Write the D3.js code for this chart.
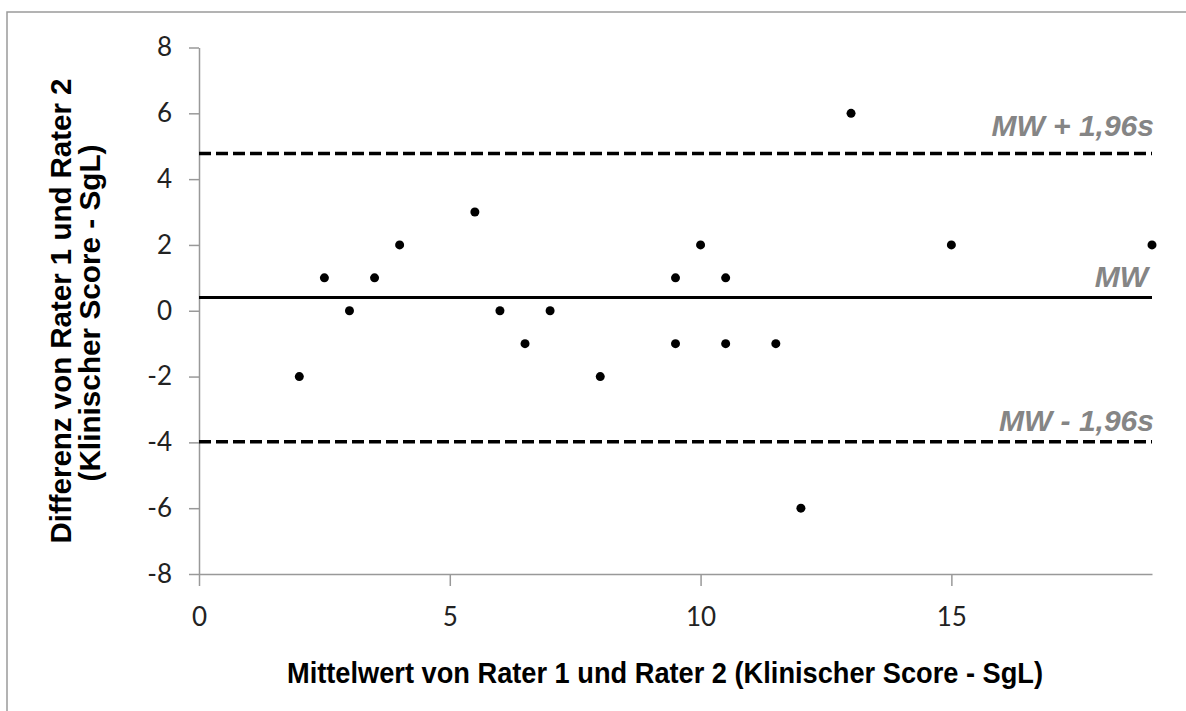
<!DOCTYPE html>
<html>
<head>
    <meta charset="utf-8">
    <title>Bland-Altman</title>
    <script src="https://d3js.org/d3.v7.min.js"></script>
    <style>
        body { margin: 0; background: #fff; }
        .tick text { font-family: Lato, "Open Sans", sans-serif; font-size: 26px; fill: #222; }
        .title { font-family: "Liberation Sans", Arial, sans-serif; font-weight: bold; font-size: 29px; fill: #000; }
        .lbl { font-family: "Liberation Sans", Arial, sans-serif; font-weight: bold; font-style: italic; font-size: 30px; fill: #858585; }
    </style>
</head>
<body>
<div id="chart"></div>
<script>
    // Mittelwert (x) und Differenz (y) je Fall
    let meanValues = [2, 2.5, 3, 3.5, 4, 5.5, 6, 6.5, 7, 8, 9.5, 9.5, 10, 10.5, 10.5, 11.5, 12, 13, 15, 19];
    let diffValues = [-2, 1, 0, 1, 2, 3, 0, -1, 0, -2, 1, -1, 2, 1, -1, -1, -6, 6, 2, 2];

    // Mittelwert und Grenzen (MW +/- 1,96s)
    let refValues = [4.78, 0.40, -3.98];
    let refLabels = ["MW + 1,96s", "MW", "MW - 1,96s"];
    let refDashed = [true, false, true];

    let xTicks = [0, 5, 10, 15];
    let yTicks = [-8, -6, -4, -2, 0, 2, 4, 6, 8];

    let W = 1186, H = 711;

    let svg = d3.select("#chart")
        .append("svg")
        .attr("width", W)
        .attr("height", H);

    // Rahmen (nur oben und links sichtbar)
    svg.append("rect")
        .attr("x", 7).attr("y", 12)
        .attr("width", W + 20).attr("height", H + 20)
        .attr("fill", "none")
        .attr("stroke", "#9a9a9a")
        .attr("stroke-width", 1.5);

    let xScale = d3.scaleLinear().domain([0, 19]).range([199, 1152]);
    let yScale = d3.scaleLinear().domain([-8, 8]).range([574, 47.5]);

    // y-Achse
    let yAxis = svg.append("g")
        .attr("transform", "translate(199,0)")
        .call(d3.axisLeft(yScale).tickValues(yTicks).tickSize(10).tickSizeOuter(0).tickPadding(17)
              .tickFormat(d => d < 0 ? "-" + Math.abs(d) : d));
    yAxis.selectAll("line, path").attr("stroke", "#999").attr("stroke-width", 1.5);

    // x-Achse
    let xAxis = svg.append("g")
        .attr("transform", "translate(0,574)")
        .call(d3.axisBottom(xScale).tickValues(xTicks).tickSize(12).tickSizeOuter(0).tickPadding(22));
    xAxis.selectAll("line, path").attr("stroke", "#999").attr("stroke-width", 1.5);

    // Referenzlinien
    svg.selectAll(".ref")
        .data(refValues)
        .enter()
        .append("line")
        .attr("class", "ref")
        .attr("x1", xScale(0))
        .attr("x2", xScale(19))
        .attr("y1", d => yScale(d))
        .attr("y2", d => yScale(d))
        .attr("stroke", "#000")
        .attr("stroke-width", (d, i) => refDashed[i] ? 3.5 : 3)
        .attr("stroke-dasharray", (d, i) => refDashed[i] ? "12,5" : null);

    let lblOffset = [17, 11, 11];
    svg.selectAll(".lbl")
        .data(refValues)
        .enter()
        .append("text")
        .attr("class", "lbl")
        .attr("x", (d, i) => i === 1 ? 1148 : 1154)
        .attr("y", (d, i) => yScale(d) - lblOffset[i])
        .attr("text-anchor", "end")
        .text((d, i) => refLabels[i]);

    // Punkte
    svg.selectAll("circle")
        .data(meanValues)
        .enter()
        .append("circle")
        .attr("cx", d => xScale(d))
        .attr("cy", (d, i) => yScale(diffValues[i]))
        .attr("r", 4.5)
        .attr("fill", "#000");

    // Achsentitel
    svg.append("text")
        .attr("class", "title")
        .attr("x", 665)
        .attr("y", 683)
        .attr("text-anchor", "middle")
        .attr("textLength", 756)
        .attr("lengthAdjust", "spacingAndGlyphs")
        .text("Mittelwert von Rater 1 und Rater 2 (Klinischer Score - SgL)");

    svg.append("text")
        .attr("class", "title")
        .attr("transform", "translate(71,311) rotate(-90)")
        .attr("text-anchor", "middle")
        .attr("textLength", 465)
        .attr("lengthAdjust", "spacingAndGlyphs")
        .text("Differenz von Rater 1 und Rater 2");

    svg.append("text")
        .attr("class", "title")
        .attr("transform", "translate(100,313) rotate(-90)")
        .attr("text-anchor", "middle")
        .attr("textLength", 337)
        .attr("lengthAdjust", "spacingAndGlyphs")
        .text("(Klinischer Score - SgL)");
</script>
</body>
</html>
